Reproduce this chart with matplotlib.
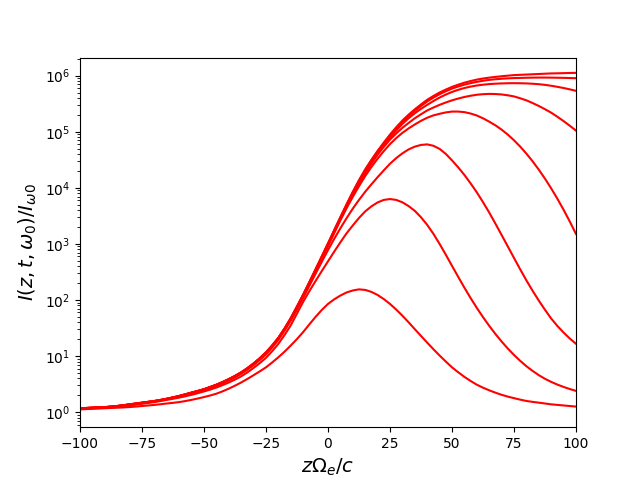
import numpy as np
import matplotlib
matplotlib.use("Agg")
import matplotlib.pyplot as plt

# posiciones z*Omega_e/c (paso de 2.5)
z = np.linspace(-100, 100, 81)

# log10 de la intensidad, una curva por instante t
log_c1 = [0.050, 0.055, 0.060, 0.065, 0.070, 0.075, 0.080, 0.085, 0.092, 0.100,
          0.110, 0.120, 0.130, 0.142, 0.155, 0.167, 0.180, 0.199, 0.220, 0.244,
          0.270, 0.298, 0.330, 0.372, 0.420, 0.473, 0.530, 0.593, 0.660, 0.728,
          0.800, 0.887, 0.980, 1.080, 1.190, 1.305, 1.430, 1.567, 1.700, 1.823,
          1.930, 2.012, 2.080, 2.135, 2.170, 2.190, 2.180, 2.145, 2.090, 2.017,
          1.930, 1.830, 1.720, 1.603, 1.480, 1.360, 1.240, 1.123, 1.010, 0.903,
          0.800, 0.712, 0.630, 0.557, 0.490, 0.437, 0.390, 0.348, 0.310, 0.278,
          0.250, 0.224, 0.200, 0.184, 0.170, 0.155, 0.140, 0.130, 0.120, 0.110,
          0.100]
log_c2 = [0.060, 0.065, 0.070, 0.075, 0.080, 0.090, 0.100, 0.110, 0.120, 0.134,
          0.150, 0.165, 0.180, 0.199, 0.220, 0.239, 0.260, 0.284, 0.310, 0.339,
          0.370, 0.403, 0.440, 0.483, 0.530, 0.582, 0.640, 0.710, 0.790, 0.875,
          0.970, 1.088, 1.220, 1.378, 1.550, 1.760, 1.970, 2.160, 2.340, 2.517,
          2.690, 2.862, 3.030, 3.190, 3.330, 3.463, 3.580, 3.670, 3.740, 3.785,
          3.800, 3.785, 3.742, 3.675, 3.590, 3.475, 3.340, 3.180, 3.000, 2.808,
          2.610, 2.413, 2.220, 2.035, 1.860, 1.695, 1.540, 1.395, 1.260, 1.135,
          1.020, 0.915, 0.820, 0.736, 0.660, 0.595, 0.540, 0.492, 0.450, 0.413,
          0.380]
log_c3 = [0.065, 0.070, 0.075, 0.080, 0.085, 0.095, 0.105, 0.117, 0.130, 0.145,
          0.160, 0.175, 0.190, 0.209, 0.230, 0.254, 0.280, 0.306, 0.335, 0.364,
          0.395, 0.430, 0.470, 0.515, 0.565, 0.622, 0.685, 0.758, 0.840, 0.930,
          1.030, 1.153, 1.290, 1.455, 1.635, 1.835, 2.040, 2.255, 2.470, 2.682,
          2.890, 3.090, 3.280, 3.460, 3.630, 3.785, 3.930, 4.063, 4.190, 4.312,
          4.430, 4.530, 4.615, 4.685, 4.735, 4.765, 4.775, 4.750, 4.695, 4.605,
          4.490, 4.365, 4.230, 4.080, 3.920, 3.745, 3.560, 3.362, 3.160, 2.955,
          2.750, 2.547, 2.350, 2.165, 1.990, 1.825, 1.670, 1.537, 1.420, 1.313,
          1.220]
log_c4 = [0.068, 0.073, 0.078, 0.083, 0.088, 0.097, 0.108, 0.121, 0.135, 0.150,
          0.165, 0.180, 0.195, 0.214, 0.235, 0.259, 0.285, 0.314, 0.345, 0.374,
          0.405, 0.442, 0.483, 0.529, 0.580, 0.637, 0.700, 0.773, 0.855, 0.947,
          1.050, 1.172, 1.310, 1.472, 1.650, 1.850, 2.060, 2.278, 2.500, 2.730,
          2.960, 3.192, 3.420, 3.637, 3.840, 4.030, 4.210, 4.372, 4.520, 4.655,
          4.780, 4.887, 4.980, 5.060, 5.130, 5.195, 5.250, 5.292, 5.320, 5.345,
          5.360, 5.360, 5.350, 5.325, 5.290, 5.240, 5.180, 5.115, 5.038, 4.949,
          4.848, 4.735, 4.610, 4.473, 4.324, 4.163, 3.990, 3.805, 3.608, 3.399,
          3.178]
log_c5 = [0.069, 0.074, 0.079, 0.084, 0.089, 0.098, 0.109, 0.123, 0.137, 0.152,
          0.167, 0.182, 0.197, 0.216, 0.237, 0.261, 0.287, 0.316, 0.347, 0.376,
          0.407, 0.445, 0.486, 0.533, 0.585, 0.642, 0.705, 0.778, 0.860, 0.952,
          1.055, 1.178, 1.315, 1.480, 1.660, 1.862, 2.070, 2.293, 2.520, 2.750,
          2.980, 3.217, 3.450, 3.670, 3.880, 4.075, 4.260, 4.430, 4.590, 4.730,
          4.860, 4.970, 5.070, 5.157, 5.240, 5.312, 5.380, 5.432, 5.480, 5.522,
          5.560, 5.592, 5.620, 5.642, 5.660, 5.670, 5.675, 5.673, 5.665, 5.650,
          5.630, 5.597, 5.560, 5.512, 5.460, 5.402, 5.340, 5.267, 5.190, 5.107,
          5.020]
log_c6 = [0.070, 0.075, 0.080, 0.085, 0.090, 0.099, 0.110, 0.124, 0.138, 0.153,
          0.168, 0.183, 0.198, 0.217, 0.238, 0.262, 0.288, 0.317, 0.348, 0.377,
          0.408, 0.447, 0.488, 0.535, 0.587, 0.644, 0.707, 0.782, 0.865, 0.957,
          1.060, 1.183, 1.320, 1.487, 1.670, 1.875, 2.085, 2.308, 2.535, 2.762,
          2.990, 3.227, 3.460, 3.685, 3.900, 4.100, 4.290, 4.465, 4.630, 4.770,
          4.900, 5.022, 5.140, 5.240, 5.330, 5.408, 5.480, 5.548, 5.610, 5.663,
          5.710, 5.748, 5.780, 5.805, 5.825, 5.839, 5.850, 5.857, 5.862, 5.865,
          5.866, 5.865, 5.862, 5.856, 5.848, 5.836, 5.820, 5.801, 5.780, 5.756,
          5.730]
log_c7 = [0.070, 0.075, 0.080, 0.085, 0.090, 0.099, 0.110, 0.124, 0.140, 0.155,
          0.170, 0.185, 0.200, 0.219, 0.240, 0.264, 0.290, 0.319, 0.350, 0.379,
          0.410, 0.449, 0.490, 0.538, 0.590, 0.647, 0.710, 0.786, 0.870, 0.962,
          1.065, 1.188, 1.325, 1.492, 1.675, 1.882, 2.095, 2.318, 2.545, 2.775,
          3.005, 3.240, 3.470, 3.698, 3.920, 4.125, 4.315, 4.485, 4.645, 4.790,
          4.925, 5.057, 5.175, 5.277, 5.370, 5.458, 5.540, 5.608, 5.670, 5.722,
          5.770, 5.807, 5.840, 5.867, 5.890, 5.909, 5.925, 5.936, 5.945, 5.952,
          5.957, 5.960, 5.963, 5.965, 5.966, 5.966, 5.965, 5.963, 5.961, 5.958,
          5.955]
log_c8 = [0.070, 0.075, 0.080, 0.085, 0.090, 0.100, 0.110, 0.124, 0.140, 0.155,
          0.170, 0.185, 0.200, 0.219, 0.240, 0.264, 0.290, 0.319, 0.350, 0.379,
          0.410, 0.449, 0.490, 0.538, 0.590, 0.647, 0.710, 0.786, 0.870, 0.965,
          1.070, 1.193, 1.330, 1.497, 1.680, 1.887, 2.100, 2.323, 2.550, 2.780,
          3.010, 3.247, 3.480, 3.708, 3.930, 4.137, 4.330, 4.500, 4.660, 4.808,
          4.950, 5.080, 5.200, 5.305, 5.400, 5.487, 5.570, 5.638, 5.700, 5.752,
          5.800, 5.839, 5.875, 5.904, 5.930, 5.949, 5.965, 5.978, 5.990, 6.000,
          6.010, 6.015, 6.020, 6.025, 6.030, 6.035, 6.040, 6.042, 6.045, 6.048,
          6.050]

curvas = [log_c1, log_c2, log_c3, log_c4, log_c5, log_c6, log_c7, log_c8]

fig, ax = plt.subplots(figsize=(6.4, 4.8), dpi=100)
for c in curvas:
    ax.plot(z, 10 ** np.array(c), color="red")

ax.set_yscale("log")
ax.set_xlim(-100, 100)
ax.set_ylim(0.54, 2.1e6)
ax.set_xlabel(r"$z\Omega_e/c$", fontsize=14)
ax.set_ylabel(r"$I(z,t,\omega_0)/I_{\omega 0}$", fontsize=14)

plt.savefig("out.png")
